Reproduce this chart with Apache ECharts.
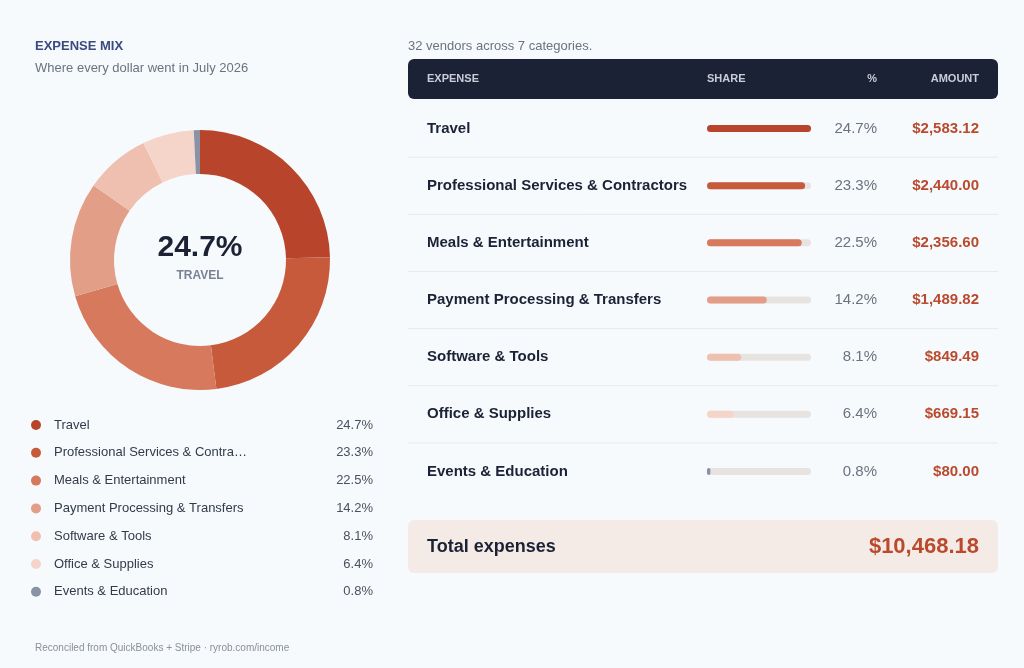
<!DOCTYPE html><html><head><meta charset="utf-8">
<script src="https://cdn.jsdelivr.net/npm/echarts@6/dist/echarts.min.js"></script>
<style>html,body{margin:0;background:#f7fafc}#c{width:1024px;height:668px}</style></head><body><div id="c"></div>
<script>
const categories=["Travel","Professional Services & Contractors","Meals & Entertainment","Payment Processing & Transfers","Software & Tools","Office & Supplies","Events & Education"];
const legendNames=["Travel","Professional Services & Contra…","Meals & Entertainment","Payment Processing & Transfers","Software & Tools","Office & Supplies","Events & Education"];
const amounts=[2583.12,2440.00,2356.60,1489.82,849.49,669.15,80.00];
const pcts=[24.7,23.3,22.5,14.2,8.1,6.4,0.8];
const colors=["#b8442b","#c85a3c","#d6795c","#e39e88","#efc0b0","#f5d5ca","#8a93a6"];
const F="Liberation Sans, Arial, sans-serif";
const fmt=v=>"$"+v.toLocaleString("en-US",{minimumFractionDigits:2,maximumFractionDigits:2});
const total=amounts.reduce((a,b)=>a+b,0);
const g=[];
const T=(x,y,text,o)=>g.push({type:'text',left:undefined,x,y,style:Object.assign({text,font:'13px '+F,fill:'#333a4a',textVerticalAlign:'middle'},o)});
T(35,46,"EXPENSE MIX",{font:'bold 13px '+F,fill:'#3a4a80'});
T(35,68,"Where every dollar went in July 2026",{fill:'#6b7280'});
T(35,648,"Reconciled from QuickBooks + Stripe · ryrob.com/income",{font:'10px '+F,fill:'#8a8f99'});
T(200,248,pcts[0].toFixed(1)+"%",{font:'bold 30px '+F,fill:'#1c2236',textAlign:'center'});
T(200,276,categories[0].toUpperCase(),{font:'bold 12px '+F,fill:'#7b8194',textAlign:'center'});
legendNames.forEach((n,i)=>{const y=425+27.8*i;
 g.push({type:'circle',shape:{cx:36,cy:y,r:5},style:{fill:colors[i]}});
 T(54,y,n,{fill:'#333a4a'});T(373,y,pcts[i].toFixed(1)+"%",{textAlign:'right',fill:'#4b5060'});});
T(408,46,"32 vendors across 7 categories.",{fill:'#6b7280'});
g.push({type:'rect',shape:{x:408,y:59,width:590,height:40,r:6},style:{fill:'#1c2236'}});
const H={font:'bold 11px '+F,fill:'#c8cdd8'};
T(427,79,"EXPENSE",H);T(707,79,"SHARE",H);T(877,79,"%",Object.assign({textAlign:'right'},H));T(979,79,"AMOUNT",Object.assign({textAlign:'right'},H));
categories.forEach((c,i)=>{const y=128.6+57.14*i;
 T(427,y,c,{font:'bold 15px '+F,fill:'#1c2236'});
 T(877,y,pcts[i].toFixed(1)+"%",{font:'15px '+F,fill:'#6b7280',textAlign:'right'});
 T(979,y,fmt(amounts[i]),{font:'bold 15px '+F,fill:'#b94a2e',textAlign:'right'});
 if(i<6)g.push({type:'line',shape:{x1:408,y1:y+28.6,x2:998,y2:y+28.6},style:{stroke:'#e6e9ee',lineWidth:1}});});
g.push({type:'rect',shape:{x:408,y:520,width:590,height:53,r:6},style:{fill:'#f5ebe6'}});
T(427,547,"Total expenses",{font:'bold 18px '+F,fill:'#1c2236'});
T(979,547,fmt(total),{font:'bold 22px '+F,fill:'#b94a2e',textAlign:'right'});
const chart=echarts.init(document.getElementById('c'));
chart.setOption({backgroundColor:'#f7fafc',animation:false,graphic:g,
 grid:{left:707,width:104,top:100,height:400},
 xAxis:{type:'value',min:0,max:Math.max(...pcts),show:false},
 yAxis:{type:'category',data:categories,inverse:true,show:false},
 series:[{type:'pie',center:[200,260],radius:[86,130],startAngle:90,label:{show:false},silent:true,
   data:categories.map((c,i)=>({name:c,value:amounts[i],itemStyle:{color:colors[i]}}))},
  {type:'bar',data:pcts.map((v,i)=>({value:v,itemStyle:{color:colors[i]}})),barWidth:7,
   showBackground:true,backgroundStyle:{color:'#e6e3e1',borderRadius:4},itemStyle:{borderRadius:4}}]});
</script></body></html>
